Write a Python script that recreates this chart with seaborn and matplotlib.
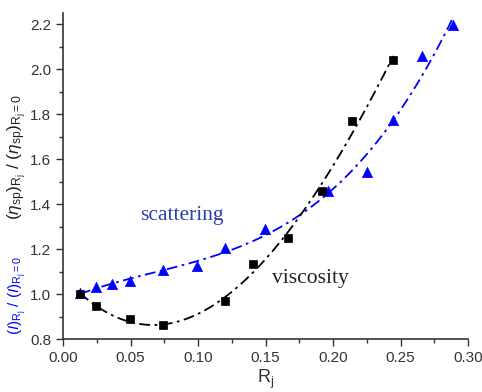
import numpy as np
import pandas as pd
import matplotlib
matplotlib.use("Agg")
import matplotlib.pyplot as plt
import seaborn as sns
from matplotlib.ticker import MultipleLocator

# viscosity data (black squares)
visc_x = [0.0126, 0.0244, 0.0496, 0.0738, 0.120, 0.141, 0.167, 0.1916, 0.2138, 0.2447]
visc_y = [1.000, 0.946, 0.891, 0.861, 0.971, 1.132, 1.248, 1.459, 1.769, 2.040]

# scattering data (blue triangles)
scat_x = [0.0126, 0.0244, 0.0365, 0.0496, 0.0738, 0.099, 0.120, 0.1496, 0.1965, 0.2254, 0.2447, 0.2662, 0.2891]
scat_y = [1.005, 1.031, 1.043, 1.058, 1.105, 1.125, 1.204, 1.291, 1.459, 1.541, 1.775, 2.059, 2.196]

x_ticks = [0.00, 0.05, 0.10, 0.15, 0.20, 0.25, 0.30]
y_ticks = [0.8, 1.0, 1.2, 1.4, 1.6, 1.8, 2.0, 2.2]

sns.set_theme(style="ticks")
plt.rcParams['font.family'] = ['Liberation Sans', 'DejaVu Sans']
plt.rcParams['mathtext.fontset'] = 'custom'
plt.rcParams['mathtext.rm'] = 'Liberation Sans'
plt.rcParams['mathtext.it'] = 'Liberation Sans:italic'

fig = plt.figure(figsize=(4.82, 3.92), dpi=100)
ax = fig.add_axes([0.1307, 0.135, 0.8403, 0.832])

dv = pd.DataFrame({"x": visc_x, "y": visc_y})
ds = pd.DataFrame({"x": scat_x, "y": scat_y})

sns.regplot(data=ds, x="x", y="y", order=3, ci=None, scatter=False, ax=ax,
            line_kws=dict(color="#0000ff", lw=1.3, ls=(0, (6, 2.5, 1.5, 2.5))))
sns.regplot(data=dv, x="x", y="y", order=3, ci=None, scatter=False, ax=ax,
            line_kws=dict(color="black", lw=1.3, ls=(0, (6, 2.5, 1.5, 2.5))))
sns.scatterplot(data=ds, x="x", y="y", marker="^", s=55, color="#0000ff",
                edgecolor="#0000ff", linewidth=0.5, ax=ax, zorder=3)
sns.scatterplot(data=dv, x="x", y="y", marker="s", s=38, color="black",
                edgecolor="black", linewidth=0.5, ax=ax, zorder=3)

ax.set_xlim(0, 0.30)
ax.set_ylim(0.8, 2.25)
ax.set_xticks(x_ticks)
ax.set_xticklabels([f"{v:.2f}" for v in x_ticks])
ax.set_yticks(y_ticks)
ax.set_yticklabels([f"{v:.1f}" for v in y_ticks])
ax.xaxis.set_minor_locator(MultipleLocator(0.025))
ax.yaxis.set_minor_locator(MultipleLocator(0.1))
ax.tick_params(which="major", direction="out", length=5, width=1, labelsize=11, color="#333333", labelcolor="#333333")
ax.tick_params(which="minor", direction="out", length=3, width=1, color="#333333")
for side in ["top", "right"]:
    ax.spines[side].set_visible(False)
for side in ["left", "bottom"]:
    ax.spines[side].set_linewidth(1.2)
    ax.spines[side].set_color("#333333")

ax.set_xlabel(r"R$_\mathregular{j}$", fontsize=13, color="#333333", labelpad=2)
ax.set_ylabel("")

fig.text(0.036, 0.247, r"$(\mathit{I})_{\mathregular{R_j}}\ /\ (\mathit{I})_{\mathregular{R_j=0}}$",
         rotation=90, color="#0000ff", fontsize=11, ha="center", va="center")
fig.text(0.036, 0.60, r"$(\mathit{\eta}_{\mathregular{sp}})_{\mathregular{R_j}}\ /\ (\mathit{\eta}_{\mathregular{sp}})_{\mathregular{R_j=0}}$",
         rotation=90, color="#222222", fontsize=12.5, ha="center", va="center")

ax.text(0.057, 1.348, "scattering", fontsize=15.5, color="#2a3fa8",
        family=["Liberation Serif"], ha="left", va="center")
ax.text(0.155, 1.071, "viscosity", fontsize=15.5, color="#222222",
        family=["Liberation Serif"], ha="left", va="center")

fig.savefig("out.png", dpi=100)
